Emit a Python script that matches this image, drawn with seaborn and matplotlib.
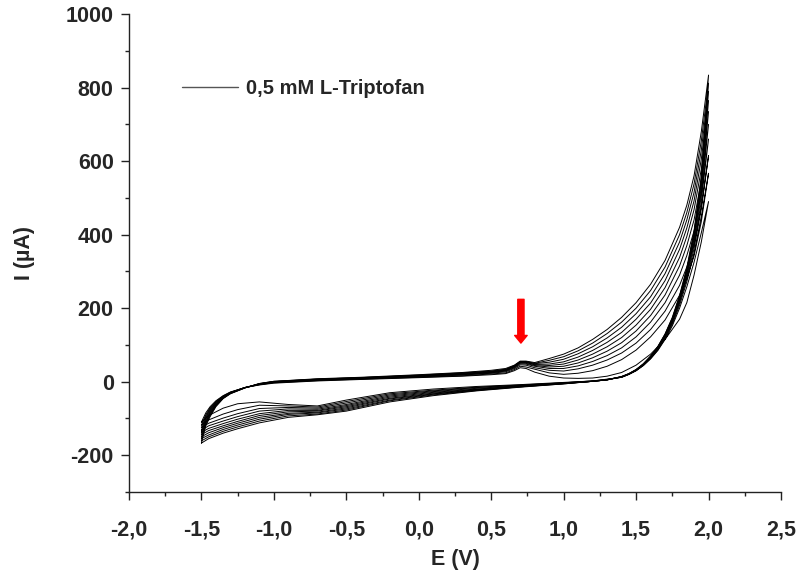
import matplotlib
matplotlib.use("Agg")
import matplotlib.pyplot as plt
import seaborn as sns
import pandas as pd
from matplotlib.ticker import MultipleLocator, FixedLocator, FixedFormatter

# ---------------- data ----------------
E_fwd = [-1.50, -1.47, -1.44, -1.40, -1.35, -1.30, -1.20, -1.10, -1.00, -0.70, -0.40,
         0.00, 0.30, 0.50, 0.60, 0.66, 0.70, 0.74, 0.80, 0.90, 1.00,
         1.10, 1.20, 1.30, 1.40, 1.50, 1.60, 1.70, 1.80, 1.85, 1.90, 1.95, 2.00]
E_rev = [2.00, 1.95, 1.90, 1.85, 1.80, 1.75, 1.70, 1.65, 1.60, 1.55, 1.50, 1.45, 1.40,
         1.30, 1.20, 1.00, 0.70, 0.40, 0.10, -0.20, -0.50, -0.70, -0.90, -1.10,
         -1.25, -1.35, -1.45, -1.50]

fwd_1 = [-110, -85, -68, -52, -38, -28, -16, -9, -4, 2, 6, 11, 15, 19, 22, 30, 38, 36, 26,
         15, 10, 9, 10, 15, 25, 45, 75, 115, 170, 215, 290, 380, 490]
fwd_2 = [-118, -90, -71, -54, -39, -29, -16, -8, -3, 3, 7, 12, 16, 21, 24, 33, 42, 40, 34,
         24, 20, 23, 30, 42, 60, 86, 122, 168, 235, 282, 342, 435, 567]
fwd_3 = [-125, -94, -74, -56, -40, -29, -16, -8, -2, 4, 8, 13, 18, 23, 27, 36, 46, 45, 38,
         31, 29, 35, 45, 59, 78, 105, 142, 192, 262, 312, 375, 475, 615]
fwd_4 = [-132, -98, -77, -57, -41, -30, -16, -7, -1, 5, 9, 14, 19, 24, 29, 38, 49, 48, 42,
         36, 36, 43, 55, 71, 92, 122, 162, 215, 290, 343, 410, 515, 660]
fwd_5 = [-138, -102, -80, -59, -42, -30, -16, -7, -1, 5, 9, 15, 20, 25, 30, 40, 51, 50, 44,
         40, 42, 51, 65, 83, 106, 138, 180, 236, 315, 370, 440, 548, 700]
fwd_6 = [-144, -106, -83, -61, -43, -31, -16, -6, 0, 6, 10, 16, 21, 26, 31, 41, 52, 52, 46,
         44, 48, 59, 75, 95, 120, 154, 197, 256, 338, 395, 468, 578, 735]
fwd_7 = [-150, -110, -86, -63, -44, -31, -16, -6, 0, 6, 10, 16, 22, 27, 32, 42, 53, 53, 47,
         48, 54, 67, 85, 107, 134, 170, 214, 275, 360, 418, 492, 605, 765]
fwd_8 = [-155, -113, -89, -64, -45, -32, -17, -6, 0, 7, 11, 17, 23, 28, 33, 43, 54, 54, 49,
         53, 61, 76, 95, 119, 148, 185, 231, 294, 380, 440, 515, 630, 790]
fwd_9 = [-161, -117, -92, -66, -45, -32, -17, -5, 1, 7, 11, 18, 24, 29, 34, 44, 55, 55, 50,
         58, 68, 84, 105, 131, 162, 200, 248, 312, 400, 460, 538, 655, 812]
fwd_10 = [-167, -120, -95, -68, -46, -33, -17, -5, 1, 8, 12, 19, 25, 31, 36, 45, 56, 56, 52,
          63, 75, 92, 115, 142, 175, 215, 265, 330, 420, 480, 560, 680, 834]

rev_1 = [490, 405, 325, 258, 200, 152, 115, 85, 62, 44, 30, 20, 12,
         7, 2, -2, -8, -13, -20, -30, -50, -66, -62, -55, -60, -72, -92, -110]
rev_2 = [567, 450, 350, 272, 208, 156, 117, 86, 63, 44, 30, 20, 12,
         6, 2, -3, -9, -15, -23, -33, -54, -69, -66, -64, -76, -88, -104, -118]
rev_3 = [615, 472, 362, 280, 214, 160, 120, 88, 64, 45, 30, 20, 12,
         6, 2, -3, -10, -16, -25, -36, -58, -72, -70, -73, -87, -99, -113, -125]
rev_4 = [660, 490, 372, 286, 218, 163, 122, 90, 65, 46, 31, 20, 13,
         6, 1, -4, -11, -18, -27, -39, -62, -75, -74, -80, -95, -107, -120, -132]
rev_5 = [700, 505, 380, 291, 221, 165, 123, 91, 66, 46, 31, 21, 13,
         5, 1, -4, -12, -20, -29, -42, -65, -78, -78, -87, -102, -114, -127, -138]
rev_6 = [735, 518, 388, 296, 224, 167, 125, 92, 67, 47, 32, 21, 13,
         5, 1, -5, -12, -21, -31, -45, -68, -80, -82, -92, -108, -120, -133, -144]
rev_7 = [765, 530, 394, 300, 227, 169, 126, 93, 68, 47, 32, 21, 13,
         5, 1, -5, -13, -22, -33, -47, -71, -83, -86, -97, -113, -125, -139, -150]
rev_8 = [790, 540, 400, 303, 230, 171, 128, 94, 68, 48, 32, 21, 14,
         5, 1, -5, -14, -23, -34, -50, -74, -85, -89, -102, -118, -130, -145, -155]
rev_9 = [812, 550, 405, 306, 232, 173, 129, 95, 69, 48, 33, 22, 14,
         5, 1, -6, -14, -24, -36, -52, -77, -88, -93, -107, -123, -135, -150, -161]
rev_10 = [834, 560, 410, 310, 235, 175, 130, 96, 70, 49, 33, 22, 14,
          5, 1, -6, -15, -25, -38, -55, -80, -90, -97, -112, -128, -140, -155, -167]

x_ticks = [-2.0, -1.5, -1.0, -0.5, 0.0, 0.5, 1.0, 1.5, 2.0, 2.5]
x_tick_labels = ["-2,0", "-1,5", "-1,0", "-0,5", "0,0", "0,5", "1,0", "1,5", "2,0", "2,5"]
y_ticks = [-200, 0, 200, 400, 600, 800, 1000]
y_tick_labels = ["-200", "0", "200", "400", "600", "800", "1000"]
legend_label = "0,5 mM L-Triptofan"
x_label = "E (V)"
y_label = "I (µA)"
arrow_E = 0.705
arrow_I_tail = 224
arrow_I_tip = 105

# ---------------- build table ----------------
fwds = [fwd_1, fwd_2, fwd_3, fwd_4, fwd_5, fwd_6, fwd_7, fwd_8, fwd_9, fwd_10]
revs = [rev_1, rev_2, rev_3, rev_4, rev_5, rev_6, rev_7, rev_8, rev_9, rev_10]
rows = []
for c, (f, r) in enumerate(zip(fwds, revs), start=1):
    k = 0
    for e, i in zip(E_fwd, f):
        rows.append((c, k, e, i)); k += 1
    for e, i in zip(E_rev, r):
        rows.append((c, k, e, i)); k += 1
df = pd.DataFrame(rows, columns=["cycle", "step", "E", "I"])

# ---------------- style ----------------
sns.set_style("ticks")
plt.rcParams["font.family"] = ["Liberation Sans", "DejaVu Sans"]
plt.rcParams["font.weight"] = "bold"
plt.rcParams["axes.unicode_minus"] = False

fig = plt.figure(figsize=(8.03, 5.85), dpi=100)
ax = fig.add_axes([0.1606, 0.159, 0.812, 0.817])

sns.lineplot(data=df, x="E", y="I", units="cycle", estimator=None, sort=False,
             color="black", linewidth=0.7, ax=ax)

ax.set_xlim(-2.0, 2.5)
ax.set_ylim(-300, 1000)
sns.despine(ax=ax)
for s in ["left", "bottom"]:
    ax.spines[s].set_linewidth(1.0)
    ax.spines[s].set_color("#222222")

ax.xaxis.set_major_locator(FixedLocator(x_ticks))
ax.xaxis.set_major_formatter(FixedFormatter(x_tick_labels))
ax.xaxis.set_minor_locator(MultipleLocator(0.25))
ax.yaxis.set_major_locator(FixedLocator(y_ticks))
ax.yaxis.set_major_formatter(FixedFormatter(y_tick_labels))
ax.yaxis.set_minor_locator(MultipleLocator(100))

ax.tick_params(axis="both", which="major", length=6, width=1.0, color="#222222",
               labelsize=15.5)
ax.tick_params(axis="both", which="minor", length=3, width=1.0, color="#222222")
ax.tick_params(axis="x", which="major", pad=14)
ax.tick_params(axis="y", which="major", pad=5)
for lab in ax.get_xticklabels() + ax.get_yticklabels():
    lab.set_fontweight("bold")

ax.set_xlabel(x_label, fontsize=15.5, fontweight="bold", labelpad=6)
ax.set_ylabel(y_label, fontsize=15.5, fontweight="bold", labelpad=22)

# legend
handle = ax.lines[0]
leg = ax.legend([handle], [legend_label], loc="center left",
                bbox_to_anchor=(0.0814, 0.845), frameon=False, fontsize=14.5,
                handlelength=2.8, handletextpad=0.4, borderpad=0, borderaxespad=0)
for t in leg.get_texts():
    t.set_fontweight("bold")
leg.get_lines()[0].set_color("#555555")
leg.get_lines()[0].set_linewidth(1.0)

# red arrow
ax.annotate("", xy=(arrow_E, arrow_I_tip), xytext=(arrow_E, arrow_I_tail),
            arrowprops=dict(arrowstyle="simple,head_length=0.55,head_width=0.9,tail_width=0.45",
                            color="red", shrinkA=0, shrinkB=0, mutation_scale=10))

fig.savefig("out.png", dpi=100)
